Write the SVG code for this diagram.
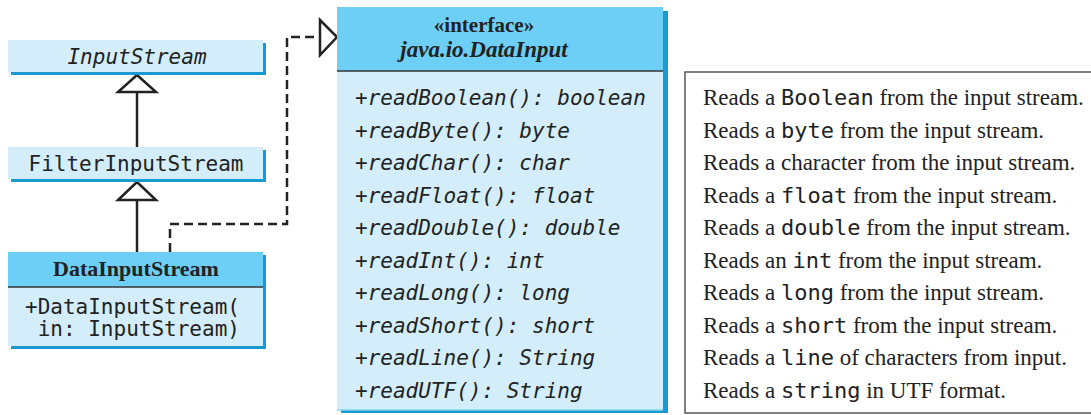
<svg xmlns="http://www.w3.org/2000/svg" width="1091" height="415" viewBox="0 0 1091 415">
<style>
.hdr{fill:#6dcff6}
.body{fill:#d3eefa}
.shd{fill:#1a9ad0}
.div{stroke:#333;stroke-width:1.5}
.mono{font-family:"DejaVu Sans Mono",monospace;font-size:21px;fill:#222}
.it{font-style:oblique}
.serif{font-family:"Liberation Serif",serif;font-size:22px;fill:#222}
.desc{font-family:"Liberation Serif",serif;font-size:23px;fill:#222}
.bold{font-weight:bold}
.dm{font-family:"DejaVu Sans Mono",monospace;font-size:22px}
.line{stroke:#222;stroke-width:2.5;fill:none}
.dash{stroke:#222;stroke-width:2.5;fill:none;stroke-dasharray:9 5}
.tri{stroke:#222;stroke-width:2.5;fill:#fff;stroke-linejoin:miter}
</style>
<g id="connectors">
<line class="line" x1="137" y1="92" x2="137" y2="147"/>
<polygon class="tri" points="137,75 118,92 156,92"/>
<line class="line" x1="137" y1="200" x2="137" y2="252"/>
<polygon class="tri" points="137,182 118,200 156,200"/>
<polyline class="dash" points="170,252 170,224 287,224 287,37 320,37"/>
<polygon class="tri" points="320,20 337,37 320,55"/>
</g>
<g id="InputStream">
<rect class="shd" x="11" y="43" width="255" height="32"/>
<rect class="body" x="8" y="40" width="255" height="32"/>
<text class="mono it" x="137" y="64" text-anchor="middle">InputStream</text>
</g>
<g id="FilterInputStream">
<rect class="shd" x="11" y="150" width="255" height="32"/>
<rect class="body" x="8" y="147" width="255" height="32"/>
<text class="mono" x="136" y="171" text-anchor="middle">FilterInputStream</text>
</g>
<g id="DataInputStream">
<rect class="shd" x="11" y="255" width="255" height="94"/>
<rect class="hdr" x="8" y="252" width="255" height="35"/>
<rect class="body" x="8" y="287" width="255" height="59"/>
<line class="div" x1="8" y1="287" x2="263" y2="287"/>
<text class="serif bold" x="136" y="276" text-anchor="middle">DataInputStream</text>
<text class="mono" x="25" y="314">+DataInputStream(</text>
<text class="mono" x="25" y="336" xml:space="preserve"> in: InputStream)</text>
</g>
<g id="DataInput">
<rect class="shd" x="341" y="11" width="327" height="402"/>
<rect class="hdr" x="337" y="7" width="326" height="64"/>
<rect class="body" x="337" y="71" width="326" height="339"/>
<line class="div" x1="337" y1="71" x2="663" y2="71"/>
<line x1="337" y1="410" x2="663" y2="410" stroke="#7fd4f2" stroke-width="1.5"/>
<text class="serif bold" x="484" y="32" text-anchor="middle" style="font-size:21px">«interface»</text>
<text class="serif bold" x="484" y="57" text-anchor="middle" style="font-style:italic;font-size:23px">java.io.DataInput</text>
<g class="mono it">
<text x="355" y="105">+readBoolean(): boolean</text>
<text x="355" y="137.5">+readByte(): byte</text>
<text x="355" y="170">+readChar(): char</text>
<text x="355" y="202.5">+readFloat(): float</text>
<text x="355" y="235">+readDouble(): double</text>
<text x="355" y="267.5">+readInt(): int</text>
<text x="355" y="300">+readLong(): long</text>
<text x="355" y="332.5">+readShort(): short</text>
<text x="355" y="365">+readLine(): String</text>
<text x="355" y="397.5">+readUTF(): String</text>
</g>
</g>
<g id="descriptions">
<rect x="685" y="72" width="420" height="341" fill="#fff" stroke="#555" stroke-width="1.5"/>
<g class="desc">
<text x="703" y="105">Reads a <tspan class="dm">Boolean</tspan> from the input stream.</text>
<text x="703" y="137.5">Reads a <tspan class="dm">byte</tspan> from the input stream.</text>
<text x="703" y="170">Reads a character from the input stream.</text>
<text x="703" y="202.5">Reads a <tspan class="dm">float</tspan> from the input stream.</text>
<text x="703" y="235">Reads a <tspan class="dm">double</tspan> from the input stream.</text>
<text x="703" y="267.5">Reads an <tspan class="dm">int</tspan> from the input stream.</text>
<text x="703" y="300">Reads a <tspan class="dm">long</tspan> from the input stream.</text>
<text x="703" y="332.5">Reads a <tspan class="dm">short</tspan> from the input stream.</text>
<text x="703" y="365">Reads a <tspan class="dm">line</tspan> of characters from input.</text>
<text x="703" y="397.5">Reads a <tspan class="dm">string</tspan> in UTF format.</text>
</g>
</g>
</svg>
